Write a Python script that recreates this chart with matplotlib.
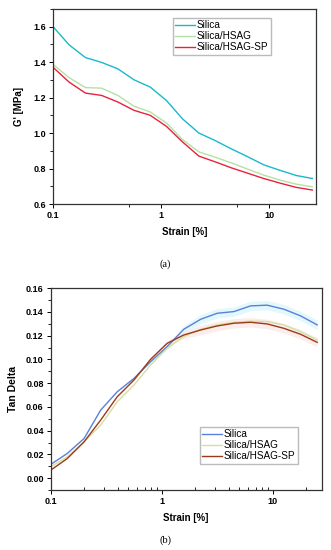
import matplotlib
matplotlib.use('Agg')
import matplotlib.pyplot as plt
import numpy as np
from matplotlib.ticker import FixedLocator, NullFormatter, MultipleLocator

plt.rcParams['font.family'] = ['Liberation Sans', 'DejaVu Sans']

strain = [0.1, 0.141, 0.2, 0.282, 0.398, 0.562, 0.794, 1.12, 1.58, 2.24,
          3.16, 4.47, 6.31, 8.91, 12.6, 17.8, 25.1]

# G' [MPa]
g_silica = [1.600, 1.497, 1.425, 1.398, 1.362, 1.300, 1.259, 1.184, 1.080, 1.000,
            0.958, 0.911, 0.867, 0.821, 0.790, 0.761, 0.744]
g_hsag = [1.387, 1.312, 1.256, 1.253, 1.212, 1.151, 1.119, 1.057, 0.963, 0.894,
          0.864, 0.832, 0.797, 0.763, 0.735, 0.712, 0.697]
g_sp = [1.371, 1.287, 1.225, 1.212, 1.175, 1.128, 1.100, 1.038, 0.950, 0.870,
        0.838, 0.804, 0.774, 0.744, 0.718, 0.694, 0.679]

# tan delta
td_silica = [0.0115, 0.0208, 0.0334, 0.0573, 0.0728, 0.0840, 0.0981, 0.1108, 0.1254,
             0.1338, 0.1389, 0.1403, 0.1451, 0.1457, 0.1423, 0.1367, 0.1291]
td_hsag = [0.0095, 0.0179, 0.0306, 0.0447, 0.0644, 0.0784, 0.0953, 0.1094, 0.1192,
           0.1254, 0.1291, 0.1313, 0.1322, 0.1319, 0.1291, 0.1234, 0.1164]
td_sp = [0.0067, 0.0165, 0.0306, 0.0489, 0.0686, 0.0826, 0.1001, 0.1136, 0.1206,
         0.1248, 0.1282, 0.1305, 0.1313, 0.1299, 0.1262, 0.1212, 0.1144]
td_err = [0.000, 0.000, 0.000, 0.000, 0.000, 0.000, 0.001, 0.002, 0.003,
          0.004, 0.004, 0.004, 0.004, 0.004, 0.004, 0.004, 0.004]

labels = ['Silica', 'Silica/HSAG', 'Silica/HSAG-SP']

fig = plt.figure(figsize=(3.31, 5.5), dpi=100)

# ---- (a) G'
ax1 = fig.add_axes([0.160, 0.629, 0.795, 0.355])
ax1.plot(strain, g_silica, color='#19b9cc', lw=1.0, label=labels[0])
ax1.plot(strain, g_hsag, color='#b5e0a5', lw=1.0, label=labels[1])
ax1.plot(strain, g_sp, color='#e8223c', lw=1.0, label=labels[2])
ax1.set_xscale('log')
ax1.set_xlim(0.1, 27.2)
ax1.set_ylim(0.6, 1.7)
ax1.xaxis.set_major_locator(FixedLocator([0.1, 1, 10]))
ax1.xaxis.set_minor_locator(FixedLocator([0.5, 5]))
ax1.xaxis.set_minor_formatter(NullFormatter())
ax1.set_xticklabels(['0.1', '1', '10'])
ax1.yaxis.set_major_locator(MultipleLocator(0.2))
ax1.yaxis.set_minor_locator(MultipleLocator(0.1))
ax1.set_yticks([0.6, 0.8, 1.0, 1.2, 1.4, 1.6])
ax1.set_yticklabels(['0.6', '0.8', '1.0', '1.2', '1.4', '1.6'])
ax1.tick_params(which='major', length=3, width=0.7, labelsize=6.5, pad=2)
ax1.tick_params(which='minor', length=2, width=0.6)
for lb in ax1.get_xticklabels() + ax1.get_yticklabels():
    lb.set_fontweight('bold')
ax1.set_xlabel('Strain [%]', fontsize=7, fontweight='bold', labelpad=5)
ax1.set_ylabel("G' [MPa]", fontsize=7, fontweight='bold', labelpad=7)
for s in ax1.spines.values():
    s.set_linewidth(0.9)
    s.set_color('#333333')
ax1.legend(loc='upper left', bbox_to_anchor=(0.455, 0.955), fontsize=7.2,
           frameon=True, fancybox=False, edgecolor='#bbbbbb', framealpha=1,
           handlelength=2.0, handletextpad=0.15, borderpad=0.25, labelspacing=0.1,
           borderaxespad=0)
fig.text(0.5, 0.52, '(a)', ha='center', va='center', fontsize=7.5,
         family=['Liberation Serif', 'DejaVu Serif'])

# ---- (b) tan delta
ax2 = fig.add_axes([0.153, 0.109, 0.819, 0.367])
ax2.fill_between(strain, np.array(td_silica) - td_err, np.array(td_silica) + td_err,
                 color='#c8f2fa', alpha=0.5, lw=0)
ax2.fill_between(strain, np.array(td_sp) - td_err, np.array(td_sp) + td_err,
                 color='#fbdcdc', alpha=0.5, lw=0)
ax2.plot(strain, td_silica, color='#5a80da', lw=1.0, label=labels[0])
ax2.plot(strain, td_hsag, color='#d5df9e', lw=1.0, label=labels[1])
ax2.plot(strain, td_sp, color='#9a3a1c', lw=1.0, label=labels[2])
ax2.set_xscale('log')
ax2.set_xlim(0.1, 27.6)
ax2.set_ylim(-0.01, 0.16)
ax2.xaxis.set_major_locator(FixedLocator([0.1, 1, 10]))
ax2.set_xticklabels(['0.1', '1', '10'])
ax2.xaxis.set_minor_formatter(NullFormatter())
ax2.set_yticks([0.0, 0.02, 0.04, 0.06, 0.08, 0.10, 0.12, 0.14, 0.16])
ax2.set_yticklabels(['0.00', '0.02', '0.04', '0.06', '0.08', '0.10', '0.12', '0.14', '0.16'])
ax2.yaxis.set_minor_locator(MultipleLocator(0.01))
ax2.tick_params(which='major', length=3, width=0.7, labelsize=6.5, pad=2)
ax2.tick_params(which='minor', length=2, width=0.6)
ax2.tick_params(axis='x', which='minor', direction='in')
for lb in ax2.get_xticklabels() + ax2.get_yticklabels():
    lb.set_fontweight('bold')
ax2.set_xlabel('Strain [%]', fontsize=7, fontweight='bold', labelpad=5)
ax2.set_ylabel('Tan Delta', fontsize=7.5, fontweight='bold', labelpad=6)
for s in ax2.spines.values():
    s.set_linewidth(0.9)
    s.set_color('#333333')
ax2.legend(loc='lower left', bbox_to_anchor=(0.55, 0.13), fontsize=7.2,
           frameon=True, fancybox=False, edgecolor='#bbbbbb', framealpha=1,
           handlelength=2.0, handletextpad=0.15, borderpad=0.25, labelspacing=0.1,
           borderaxespad=0)
fig.text(0.5, 0.018, '(b)', ha='center', va='center', fontsize=7.5,
         family=['Liberation Serif', 'DejaVu Serif'])

fig.savefig('out.png', dpi=100)
